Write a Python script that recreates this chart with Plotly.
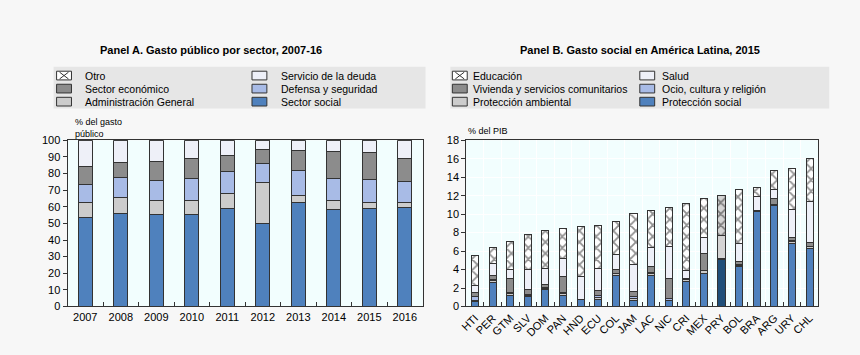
import plotly.graph_objects as go

# ---------------- Panel A data ----------------
years = ["2007", "2008", "2009", "2010", "2011", "2012", "2013", "2014", "2015", "2016"]
a_social = [53.3, 56.2, 55.2, 55.2, 59.1, 50.0, 62.4, 58.1, 59.1, 59.5]
a_admin = [9.1, 9.3, 8.8, 8.8, 8.7, 24.4, 4.6, 5.7, 3.7, 3.3]
a_defensa = [11.0, 12.0, 11.8, 12.9, 13.4, 11.5, 14.6, 13.3, 13.4, 12.4]
a_econ = [11.1, 9.3, 11.4, 11.9, 9.5, 8.5, 12.4, 16.1, 16.2, 14.1]
a_deuda = [15.5, 13.2, 12.8, 11.2, 9.3, 5.6, 6.0, 6.8, 7.6, 10.7]
a_otro = [0, 0, 0, 0, 0, 0, 0, 0, 0, 0]

# ---------------- Panel B data ----------------
countries = ["HTI", "PER", "GTM", "SLV", "DOM", "PAN", "HND", "ECU", "COL", "JAM",
             "LAC", "NIC", "CRI", "MEX", "PRY", "BOL", "BRA", "ARG", "URY", "CHL"]
b_social = [0.5, 2.6, 1.2, 1.05, 1.85, 1.15, 0.75, 0.8, 3.4, 0.6, 3.4, 0.65, 2.7, 3.6, 5.05, 4.35, 10.3, 10.9, 6.8, 6.3]
b_ambiental = [0.15, 0.2, 0.2, 0.15, 0.15, 0.25, 0.0, 0.2, 0.15, 0.25, 0.2, 0.05, 0.2, 0.3, 0.1, 0.1, 0.1, 0.15, 0.2, 0.15]
b_ocio = [0.45, 0.1, 0.15, 0.1, 0.05, 0.15, 0.0, 0.2, 0.05, 0.2, 0.05, 0.15, 0.05, 0.05, 0.0, 0.05, 0.0, 0.05, 0.1, 0.05]
b_vivienda = [0.4, 0.5, 1.45, 0.55, 0.32, 1.73, 0.0, 0.58, 0.45, 0.59, 0.65, 2.22, 0.12, 1.8, 0.0, 0.38, 0.0, 0.62, 0.4, 0.48]
b_salud = [0.8, 1.25, 1.0, 2.15, 1.78, 1.88, 2.49, 2.37, 1.53, 2.93, 2.08, 3.38, 0.87, 1.75, 2.55, 1.92, 1.5, 0.94, 3.0, 4.39]
b_edu = [3.2, 1.73, 3.08, 3.78, 4.08, 3.28, 5.41, 4.6, 3.66, 5.53, 4.02, 4.22, 7.22, 4.18, 4.37, 5.86, 0.94, 2.09, 4.46, 4.71]
highlight = "PRY"

# ---------------- styles ----------------
C_BLUE = "#4f81bd"
C_BLUE_DARK = "#1f4e79"
C_LGREY = "#cccccc"
C_LBLUE = "#a8bbe6"
C_DGREY = "#8c8c8c"
C_PALE = "#eef0f8"
C_HL_GREY = "#d4d4d4"
C_LINE = "#333333"
FONT = "Liberation Sans, Arial, sans-serif"
PAPER = "#f7f7f7"
PLOT_BG = "#f2fefe"
W, H = 860, 355

fig = go.Figure()


def add_bar(x, y, name, color, xa, ya, pattern=None):
    marker = dict(color=color, line=dict(color=C_LINE, width=1))
    if pattern is not None:
        marker["pattern"] = pattern
    fig.add_trace(go.Bar(x=x, y=y, name=name, marker=marker, xaxis=xa, yaxis=ya,
                         showlegend=False, hoverinfo="x+y+name"))


hatch = dict(shape="x", size=8, solidity=0.4, fgcolor="#222222", bgcolor="white", fillmode="overlay")

# Panel A (bottom-up stacking)
a_series = [
    ("Sector social", a_social, C_BLUE),
    ("Administración General", a_admin, C_LGREY),
    ("Defensa y seguridad", a_defensa, C_LBLUE),
    ("Sector económico", a_econ, C_DGREY),
    ("Servicio de la deuda", a_deuda, C_PALE),
    ("Otro", a_otro, "hatch"),
]
for name, vals, col in a_series:
    if col == "hatch":
        add_bar(years, vals, name, "white", "x", "y", pattern=hatch)
    else:
        add_bar(years, vals, name, col, "x", "y")


# Panel B (bottom-up stacking), PRY drawn in darker shades
def cols(base, hl):
    return [hl if c == highlight else base for c in countries]


b_series = [
    ("Protección social", b_social, C_BLUE),
    ("Protección ambiental", b_ambiental, C_LGREY),
    ("Ocio, cultura y religión", b_ocio, C_LBLUE),
    ("Vivienda y servicios comunitarios", b_vivienda, C_DGREY),
    ("Salud", b_salud, C_PALE),
    ("Educación", b_edu, "hatch"),
]
for name, vals, col in b_series:
    if col == "hatch":
        hb = dict(hatch)
        hb["bgcolor"] = cols("white", C_HL_GREY)
        add_bar(countries, vals, name, "white", "x2", "y2", pattern=hb)
    elif col == C_BLUE:
        add_bar(countries, vals, name, cols(C_BLUE, C_BLUE_DARK), "x2", "y2")
    elif col == C_PALE:
        add_bar(countries, vals, name, cols(C_PALE, C_HL_GREY), "x2", "y2")
    else:
        add_bar(countries, vals, name, col, "x2", "y2")

# ---------------- legends (drawn as boxes + text, two columns each) ----------------
shapes = []
annotations = []


def px(x):
    return x / W


def py(y):
    return 1 - y / H


def legend_block(series, box, icon_x, text_dx):
    x0, x1, y0, y1 = box
    shapes.append(dict(type="rect", xref="paper", yref="paper", x0=px(x0), x1=px(x1),
                       y0=py(y1), y1=py(y0), fillcolor="#e6e6e6", line=dict(width=0), layer="below"))
    items = list(reversed(series))
    rows_y = [72, 85.5, 99]
    for i, (name, _vals, col) in enumerate(items):
        r, c = divmod(i, 2)
        xi = icon_x[c]
        yc = rows_y[r]
        fill = "white" if col == "hatch" else col
        shapes.append(dict(type="rect", xref="paper", yref="paper", x0=px(xi), x1=px(xi + 15),
                           y0=py(yc + 4.5), y1=py(yc - 4.5), fillcolor=fill,
                           line=dict(color=C_LINE, width=1)))
        if col == "hatch":
            for (xa, ya, xb, yb) in [(xi + 3, yc - 3.5, xi + 12, yc + 3.5), (xi + 3, yc + 3.5, xi + 12, yc - 3.5)]:
                shapes.append(dict(type="line", xref="paper", yref="paper", x0=px(xa), x1=px(xb),
                                   y0=py(ya), y1=py(yb), line=dict(color=C_LINE, width=1)))
        annotations.append(dict(text=name, x=px(xi + text_dx[c]), y=py(yc), xref="paper", yref="paper",
                                xanchor="left", yanchor="middle", showarrow=False,
                                font=dict(family=FONT, size=10.5, color="black")))


legend_block(a_series, (47, 422, 63, 106), (50, 247), (27, 27))
legend_block(b_series, (447, 829, 63, 106), (449, 638), (19, 20))

annotations += [
    dict(text="<b>Panel A. Gasto público por sector, 2007-16</b>", x=px(206), y=py(46),
         xref="paper", yref="paper", xanchor="center", yanchor="middle", showarrow=False,
         font=dict(family=FONT, size=11, color="black")),
    dict(text="<b>Panel B. Gasto social en América Latina, 2015</b>", x=px(638), y=py(46),
         xref="paper", yref="paper", xanchor="center", yanchor="middle", showarrow=False,
         font=dict(family=FONT, size=11, color="black")),
    dict(text="% del gasto<br>público", x=px(67), y=py(126), xref="paper", yref="paper",
         xanchor="left", yanchor="middle", align="left", showarrow=False,
         font=dict(family=FONT, size=9, color="black")),
    dict(text="% del PIB", x=px(463), y=py(129), xref="paper", yref="paper",
         xanchor="left", yanchor="middle", showarrow=False, font=dict(family=FONT, size=9, color="black")),
]

ydom = [1 - 311 / H, 1 - 139 / H]
axis_common = dict(showline=True, linecolor=C_LINE, linewidth=1, mirror=True,
                   tickfont=dict(family=FONT, size=11, color="black"), zeroline=False)

fig.update_layout(
    width=W, height=H,
    margin=dict(l=0, r=0, t=0, b=0),
    paper_bgcolor=PAPER, plot_bgcolor=PLOT_BG,
    barmode="stack",
    font=dict(family=FONT, size=11, color="black"),
    showlegend=False,
    xaxis=dict(domain=[61 / W, 419 / W], type="category", ticks="inside", tickson="boundaries",
               ticklen=4, tickcolor=C_LINE, showgrid=False, anchor="y", **axis_common),
    yaxis=dict(domain=ydom, range=[0, 100], dtick=10, ticks="outside", ticklen=4,
               tickcolor=C_LINE, showgrid=False, anchor="x", **axis_common),
    xaxis2=dict(domain=[463 / W, 818 / W], type="category", ticks="inside", tickson="boundaries",
                ticklen=4, tickcolor=C_LINE, showgrid=True, gridcolor="white", gridwidth=1,
                tickangle=-45, anchor="y2", **axis_common),
    yaxis2=dict(domain=ydom, range=[0, 18], dtick=2, ticks="outside", ticklen=4,
                tickcolor=C_LINE, showgrid=True, gridcolor="white", gridwidth=1, anchor="x2",
                **axis_common),
    bargap=0.6,
    shapes=shapes,
    annotations=annotations,
)

fig.write_html("out.html", config={"displayModeBar": False},
               post_script="document.body.style.margin='0';document.body.style.background='%s';" % PAPER)
